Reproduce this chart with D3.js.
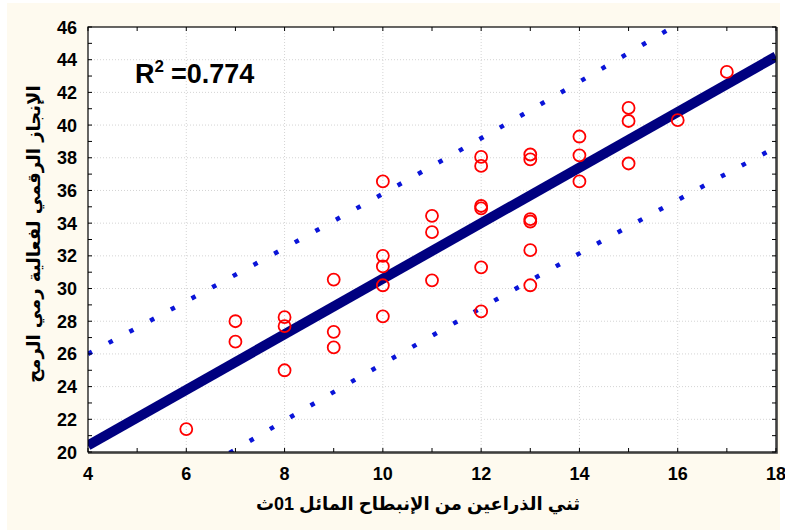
<!DOCTYPE html>
<html>
<head>
<meta charset="utf-8">
<script src="https://cdnjs.cloudflare.com/ajax/libs/d3/7.8.5/d3.min.js"></script>
<style>
  html, body { margin: 0; padding: 0; background: #ffffff; }
  svg { display: block; }
  .tick-label { font-family: "Liberation Sans", Arial, sans-serif; font-weight: bold; font-size: 18px; fill: #000; }
</style>
</head>
<body>
<svg id="chart" width="785" height="530"></svg>
<script>
// scatter points (x = push-ups, y = javelin result)
const pointX = [6, 7, 7, 8, 8, 8, 9, 9, 9,
  10, 10, 10, 10, 10, 11, 11, 11,
  12, 12, 12, 12, 12, 12, 13, 13, 13, 13, 13, 13,
  14, 14, 14, 15, 15, 15, 16, 17];
const pointY = [21.4, 28.0, 26.75, 28.25, 27.7, 25.0, 30.55, 27.35, 26.4,
  36.55, 32.0, 31.35, 30.2, 28.3, 34.45, 33.45, 30.5,
  38.05, 37.5, 35.05, 34.9, 31.3, 28.6, 38.2, 37.9, 34.25, 34.1, 32.35, 30.2,
  39.3, 38.15, 36.55, 41.05, 40.25, 37.65, 40.3, 43.25];

// fitted line and prediction band
const fitX = [4, 18];
const fitY = [20.4, 44.2];
const bandX = [4, 6, 8, 10, 12, 14, 16, 18];
const upperY = [26.0, 29.22, 32.48, 35.8, 39.19, 42.65, 46.18, 49.75];
const lowerY = [14.8, 18.38, 21.92, 25.4, 28.81, 32.15, 35.42, 38.65];

const xTicks = [4, 6, 8, 10, 12, 14, 16, 18];
const yTicks = [20, 22, 24, 26, 28, 30, 32, 34, 36, 38, 40, 42, 44, 46];
const xMinor = d3.range(4, 19, 1);
const yMinor = d3.range(20, 47, 1);

const rSquared = "0.774";
const xTitle = "ثني الذراعين من الإنبطاح المائل 01ث";
const yTitle = "الإنجاز الرقمي لفعالية رمي الرمح";

const svg = d3.select("#chart");

// plot area
const plotL = 88, plotR = 776, plotT = 27, plotB = 452;

const x = d3.scaleLinear().domain([4, 18]).range([plotL, plotR]);
const y = d3.scaleLinear().domain([20, 46]).range([plotB, plotT]);

// background
svg.append("rect")
  .attr("x", 7).attr("y", 3)
  .attr("width", 773).attr("height", 527)
  .attr("fill", "#fefaef");

svg.append("rect")
  .attr("x", plotL).attr("y", plotT)
  .attr("width", plotR - plotL).attr("height", plotB - plotT)
  .attr("fill", "#ffffff");

svg.append("clipPath").attr("id", "plotClip")
  .append("rect")
  .attr("x", plotL).attr("y", plotT)
  .attr("width", plotR - plotL).attr("height", plotB - plotT);

// grid lines (dotted, at labelled ticks)
const grid = svg.append("g").attr("class", "grid");
grid.selectAll(".gx")
  .data(xTicks.slice(1, -1))
  .join("line")
  .attr("x1", d => x(d)).attr("x2", d => x(d))
  .attr("y1", plotT).attr("y2", plotB)
  .attr("stroke", "#d4d4d4").attr("stroke-width", 1)
  .attr("stroke-dasharray", "1,2");
grid.selectAll(".gy")
  .data(yTicks.slice(1, -1))
  .join("line")
  .attr("y1", d => y(d)).attr("y2", d => y(d))
  .attr("x1", plotL).attr("x2", plotR)
  .attr("stroke", "#d4d4d4").attr("stroke-width", 1)
  .attr("stroke-dasharray", "1,2");

// lines
const lines = svg.append("g").attr("clip-path", "url(#plotClip)");
const line = d3.line().x(d => x(d[0])).y(d => y(d[1])).curve(d3.curveMonotoneX);

lines.append("path")
  .datum(bandX.map((d, i) => [d, upperY[i]]))
  .attr("d", line)
  .attr("fill", "none")
  .attr("stroke", "#0a14d8").attr("stroke-width", 4.5)
  .attr("stroke-dasharray", "4.5,19");

lines.append("path")
  .datum(bandX.map((d, i) => [d, lowerY[i]]))
  .attr("d", line)
  .attr("fill", "none")
  .attr("stroke", "#0a14d8").attr("stroke-width", 4.5)
  .attr("stroke-dasharray", "4.5,19");

lines.append("path")
  .datum(fitX.map((d, i) => [d, fitY[i]]))
  .attr("d", line)
  .attr("fill", "none")
  .attr("stroke", "#000080").attr("stroke-width", 10);

// points
svg.append("g")
  .selectAll("circle")
  .data(pointX.map((d, i) => [d, pointY[i]]))
  .join("circle")
  .attr("cx", d => x(d[0]))
  .attr("cy", d => y(d[1]))
  .attr("r", 6)
  .attr("fill", "none")
  .attr("stroke", "#ff0000")
  .attr("stroke-width", 1.8);

// frame with inward ticks on all four sides
const frame = svg.append("g");
frame.append("rect")
  .attr("x", plotL).attr("y", plotT)
  .attr("width", plotR - plotL).attr("height", plotB - plotT)
  .attr("fill", "none").attr("stroke", "#000").attr("stroke-width", 1.2);
frame.append("path")
  .attr("d", `M${plotR + 1},${plotT} V${plotB + 1} H${plotL}`)
  .attr("fill", "none").attr("stroke", "#333").attr("stroke-width", 1.5);

frame.selectAll(".tb")
  .data(xMinor)
  .join("g")
  .each(function(d) {
    const g = d3.select(this);
    g.append("line").attr("x1", x(d)).attr("x2", x(d)).attr("y1", plotT).attr("y2", plotT + 4);
    g.append("line").attr("x1", x(d)).attr("x2", x(d)).attr("y1", plotB).attr("y2", plotB - 4);
  })
  .attr("stroke", "#000").attr("stroke-width", 1);

frame.selectAll(".lr")
  .data(yMinor)
  .join("g")
  .each(function(d) {
    const g = d3.select(this);
    g.append("line").attr("y1", y(d)).attr("y2", y(d)).attr("x1", plotL).attr("x2", plotL + 4);
    g.append("line").attr("y1", y(d)).attr("y2", y(d)).attr("x1", plotR).attr("x2", plotR - 4);
  })
  .attr("stroke", "#000").attr("stroke-width", 1);

// tick labels
svg.append("g")
  .selectAll("text")
  .data(xTicks)
  .join("text")
  .attr("class", "tick-label")
  .attr("x", d => x(d))
  .attr("y", plotB + 28)
  .attr("text-anchor", "middle")
  .text(d => d);

svg.append("g")
  .selectAll("text")
  .data(yTicks)
  .join("text")
  .attr("class", "tick-label")
  .attr("x", plotL - 11)
  .attr("y", d => y(d) + 6.5)
  .attr("text-anchor", "end")
  .text(d => d);

// R squared annotation
const rText = svg.append("text")
  .attr("x", 135).attr("y", 83)
  .style("font-family", "'Liberation Sans', Arial, sans-serif")
  .style("font-weight", "bold")
  .style("font-size", "27px");
rText.append("tspan").text("R");
rText.append("tspan").attr("dy", -11).style("font-size", "17px").text("2");
rText.append("tspan").attr("dy", 11).attr("x", 171).text("=" + rSquared);

// axis titles
svg.append("text")
  .attr("x", 418).attr("y", 510)
  .attr("text-anchor", "middle")
  .attr("direction", "rtl")
  .style("font-family", "'Liberation Sans', Arial, 'DejaVu Sans', sans-serif")
  .style("font-weight", "bold")
  .style("font-size", "18px")
  .text(xTitle);

svg.append("text")
  .attr("transform", "translate(40,234) rotate(-90)")
  .attr("text-anchor", "middle")
  .attr("direction", "rtl")
  .style("font-family", "'DejaVu Sans', sans-serif")
  .style("font-weight", "bold")
  .style("font-size", "18px")
  .text(yTitle);
</script>
</body>
</html>
